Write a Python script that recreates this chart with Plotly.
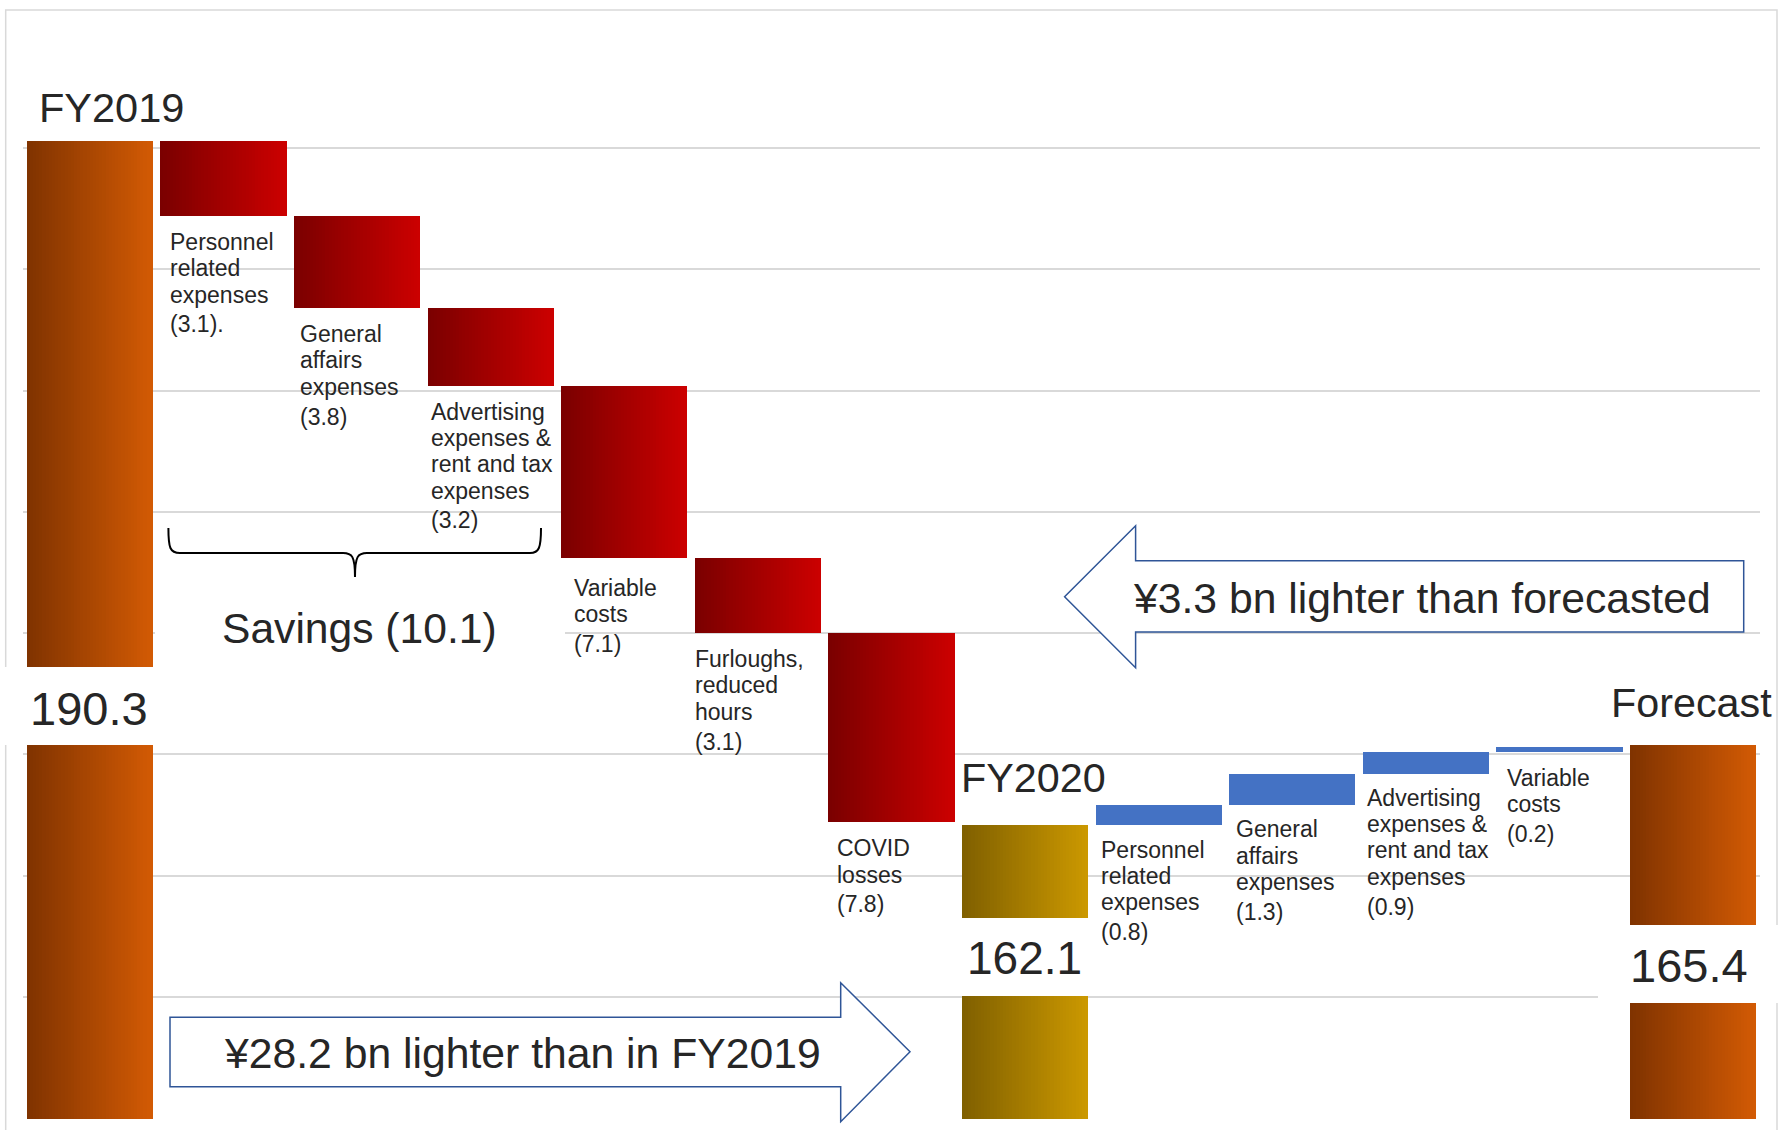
import numpy as np
import plotly.graph_objects as go

# ---------------- data (¥ bn) ----------------
fy2019_total = 190.3
cost_changes = [-3.1, -3.8, -3.2, -7.1, -3.1, -7.8]
cost_labels = [
    ["Personnel", "related", "expenses"],
    ["General", "affairs", "expenses"],
    ["Advertising", "expenses &", "rent and tax", "expenses"],
    ["Variable", "costs"],
    ["Furloughs,", "reduced", "hours"],
    ["COVID", "losses"],
]
fy2020_total = 162.1
recovery_changes = [0.8, 1.3, 0.9, 0.2]
recovery_labels = [
    ["Personnel", "related", "expenses"],
    ["General", "affairs", "expenses"],
    ["Advertising", "expenses &", "rent and tax", "expenses"],
    ["Variable", "costs"],
]
forecast_total = 165.4
savings_total = 10.1
gap_vs_fy2019 = 28.2
gap_vs_forecast = 3.3

# ---------------- waterfall geometry ----------------
lows, highs, kinds = [0.0], [fy2019_total], ["total"]
level = fy2019_total
for d in cost_changes:
    new = level + d
    lows.append(min(level, new)); highs.append(max(level, new)); kinds.append("cut")
    level = new
lows.append(0.0); highs.append(fy2020_total); kinds.append("gold")
level = fy2020_total
for d in recovery_changes:
    new = level + d
    lows.append(min(level, new)); highs.append(max(level, new)); kinds.append("rise")
    level = new
lows.append(0.0); highs.append(forecast_total); kinds.append("total")

lows = np.array(lows)
highs = np.array(highs)
heights = highs - lows
xs = np.arange(len(lows))

# left -> right colour ramps for each bar type
RAMPS = {
    "total": ((127, 51, 0), (211, 90, 4)),
    "cut": ((122, 0, 0), (204, 0, 0)),
    "gold": ((127, 95, 0), (204, 153, 0)),
    "rise": ((68, 114, 196), (68, 114, 196)),
}


def ramp(kind, t):
    a, b = RAMPS[kind]
    c = [round(a[i] + (b[i] - a[i]) * t) for i in range(3)]
    return f"rgb({c[0]},{c[1]},{c[2]})"


FONT = "Liberation Sans, Arial, sans-serif"
TXT = "#262626"
W = 0.945          # bar width in category units
N = 40             # vertical strips per bar (gradient fill)

fig = go.Figure()
for k in range(N):
    off = -W / 2 + k * W / N
    wid = min(W / N * 1.6, W / 2 - off)
    t = (k + 0.5) / N
    fig.add_trace(go.Bar(
        x=xs, y=heights, base=lows, width=wid, offset=off,
        marker=dict(color=[ramp(kd, t) for kd in kinds], line=dict(width=0)),
        hoverinfo="skip", showlegend=False,
    ))

# ---------------- canvas / pixel helpers ----------------
WIDTH, HEIGHT = 1779, 1130
ML, MR, MT, MB = 23, 19, 26, 11
L, R, T, B = ML, WIDTH - MR, MT, HEIGHT - MB


def px(xp, yp):
    return (xp - L) / (R - L), (B - yp) / (B - T)


def path(points, close=True):
    s = ""
    for i, (a, b) in enumerate(points):
        x, y = px(a, b)
        s += ("M" if i == 0 else "L") + f"{x:.5f},{y:.5f} "
    return s + ("Z" if close else "")


shapes = []
# outer frame
fx0, fy0 = px(5.7, 10)
fx1, fy1 = px(1777, 1140)
shapes.append(dict(type="rect", xref="paper", yref="paper", x0=fx0, y0=fy1, x1=fx1, y1=fy0,
                   line=dict(color="#d9d9d9", width=1.5), fillcolor="rgba(0,0,0,0)", layer="above"))


def white_box(x0, y0, x1, y1):
    a, b = px(x0, y0)
    c, d = px(x1, y1)
    shapes.append(dict(type="rect", xref="paper", yref="paper", x0=a, y0=d, x1=c, y1=b,
                       line=dict(width=0), fillcolor="white", layer="above"))


# breaks in the total bars where their values sit
white_box(0, 667, 156, 745)
white_box(960, 918, 1090, 996)
white_box(1598, 925, 1779, 1003)
# backing of the savings caption
white_box(155, 600, 565, 660)

# brace over the three savings items
bx = lambda a, b: "{:.5f},{:.5f}".format(*px(a, b))
brace = (f"M{bx(168.4, 528)} C{bx(168.4, 548)} {bx(170, 553)} {bx(180, 553)} "
         f"L{bx(343, 553)} C{bx(352, 553)} {bx(355, 556)} {bx(355, 577)} "
         f"C{bx(355, 556)} {bx(358, 553)} {bx(367, 553)} "
         f"L{bx(530, 553)} C{bx(539, 553)} {bx(541, 548)} {bx(541, 528)}")
shapes.append(dict(type="path", xref="paper", yref="paper", path=brace,
                   line=dict(color="black", width=2), layer="above"))

# block arrows
ARROW = dict(color="#2F5597", width=1.5)
shapes.append(dict(type="path", xref="paper", yref="paper", layer="above",
                   path=path([(170, 1017.3), (840.7, 1017.3), (840.7, 982.7), (910, 1051.7),
                              (840.7, 1121.7), (840.7, 1086.7), (170, 1086.7)]),
                   line=ARROW, fillcolor="white"))
shapes.append(dict(type="path", xref="paper", yref="paper", layer="above",
                   path=path([(1743.7, 560.7), (1135.6, 560.7), (1135.6, 525.7), (1064.6, 596.7),
                              (1135.6, 667.7), (1135.6, 632), (1743.7, 632)]),
                   line=ARROW, fillcolor="white"))

# ---------------- text ----------------
annotations = []


def text_px(txt, xp, yp, size, xanchor="center"):
    x, y = px(xp, yp)
    annotations.append(dict(text=txt, x=x, y=y, xref="paper", yref="paper", xanchor=xanchor,
                            yanchor="middle", showarrow=False,
                            font=dict(family=FONT, size=size, color=TXT)))


text_px("FY2019", 37, 107, 41.5, "left")
text_px(f"{fy2019_total:.1f}", 89, 708, 47)
text_px(f"Savings ({savings_total:.1f})", 359, 628, 42.6)
text_px("FY2020", 959, 778, 41.3, "left")
text_px(f"{fy2020_total:.1f}", 1024, 958, 46)
text_px("Forecast", 1774, 703, 41.3, "right")
text_px(f"{forecast_total:.1f}", 1689, 965, 47)
text_px(f"¥{gap_vs_forecast:.1f} bn lighter than forecasted", 1131, 598, 42.7, "left")
text_px(f"¥{gap_vs_fy2019:.1f} bn lighter than in FY2019", 222, 1053, 42.7, "left")

# step labels hang under each floating bar
step_idx = list(range(1, 7)) + list(range(8, 12))
step_text = cost_labels + recovery_labels
step_vals = cost_changes + recovery_changes
step_suffix = ["."] + [""] * 9
x_nudge = [8, 4, 1, 11, -2, 7, 3, 5, 2, 9]
first_gap = [26, 26, 26, 30, 26, 26, 25, 24, 24, 26]
PITCH = 26.3
VALUE_DROP = 3.5   # the bracketed amount sits a little lower than the wording
for j, i in enumerate(step_idx):
    lines = step_text[j] + [f"({abs(step_vals[j]):.1f}){step_suffix[j]}"]
    for n, line in enumerate(lines):
        extra = VALUE_DROP if n == len(lines) - 1 else 0
        annotations.append(dict(
            text=line, x=i - W / 2, y=lows[i], xref="x", yref="y",
            xanchor="left", yanchor="middle", xshift=x_nudge[j],
            yshift=-(first_gap[j] + n * PITCH + extra), showarrow=False,
            font=dict(family=FONT, size=23, color=TXT)))

fig.update_layout(
    width=WIDTH, height=HEIGHT,
    margin=dict(l=ML, r=MR, t=MT, b=MB),
    paper_bgcolor="white", plot_bgcolor="white",
    barmode="overlay", bargap=0,
    showlegend=False,
    xaxis=dict(range=[-0.5, len(xs) - 0.5], showticklabels=False, showgrid=False,
               zeroline=False, fixedrange=True),
    yaxis=dict(range=[149.97, 195.03], tick0=150, dtick=5, showticklabels=False,
               gridcolor="#d9d9d9", gridwidth=1.5, zeroline=False, fixedrange=True),
    shapes=shapes, annotations=annotations,
)

fig.write_html("out.html", config={"displayModeBar": False})
